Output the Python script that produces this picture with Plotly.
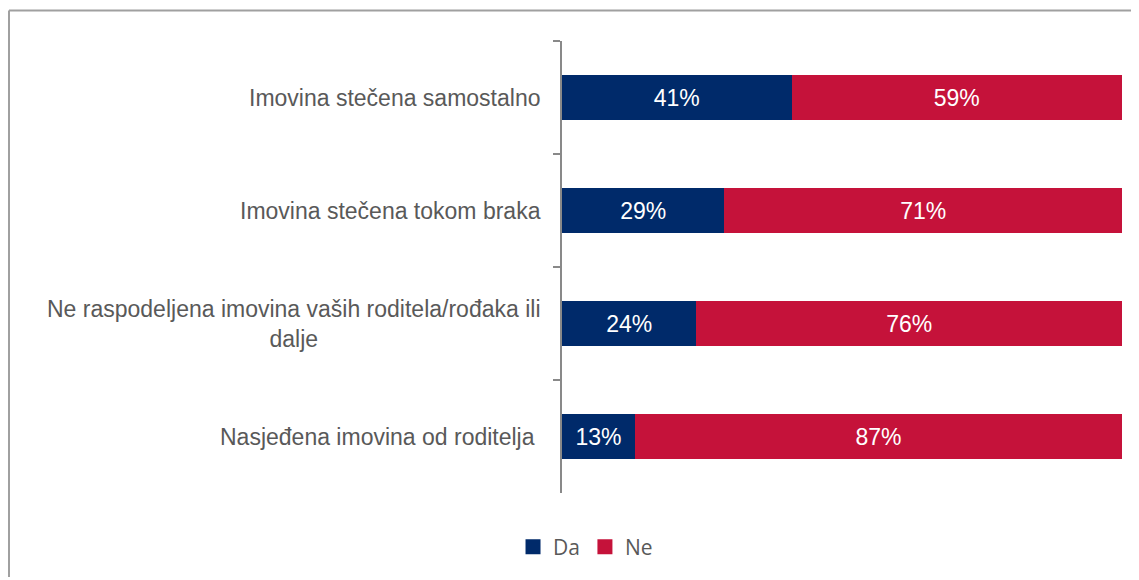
import plotly.graph_objects as go

categories = [
    "Imovina stečena samostalno",
    "Imovina stečena tokom braka",
    "Ne raspodeljena imovina vaših roditela/rođaka ili<br>dalje",
    "Nasjeđena imovina od roditelja ",
]
series_names = ["Da", "Ne"]
da_values = [41, 29, 24, 13]
ne_values = [59, 71, 76, 87]

NAVY = "#002A6A"
RED = "#C5123A"
colors = [NAVY, RED]

fig = go.Figure()
for name, vals, col in zip(series_names, [da_values, ne_values], colors):
    fig.add_trace(go.Bar(
        y=categories, x=vals, orientation="h", name=name, showlegend=False,
        marker=dict(color=col, line=dict(width=0)),
        text=[f"{v}%" for v in vals], textposition="inside",
        insidetextanchor="middle", constraintext="none",
        textfont=dict(color="white", size=23, family="Liberation Sans, Arial"),
    ))
# legend entries with larger square swatches
for name, col in zip(series_names, colors):
    fig.add_trace(go.Scatter(
        x=[None], y=[None], mode="markers", name=name,
        marker=dict(symbol="square", size=15, color=col),
    ))

annotations = []
for c in categories:
    annotations.append(dict(
        x=0, xref="paper", y=c, yref="y", text=c, showarrow=False,
        xanchor="right", xshift=-19, align="center",
        font=dict(size=23, color="#595959", family="Liberation Sans, Arial"),
    ))

fig.update_layout(
    barmode="stack",
    bargap=0.6,
    width=1123, height=569,
    margin=dict(l=554, r=9, t=33, b=79),
    plot_bgcolor="white", paper_bgcolor="white",
    showlegend=True,
    legend=dict(orientation="h", x=0.042, xanchor="center", y=-0.1195, yanchor="middle",
                font=dict(size=21, color="#595959", family="Open Sans"),
                traceorder="normal", itemwidth=30, itemsizing="trace"),
    xaxis=dict(range=[0, 100], visible=False),
    yaxis=dict(autorange="reversed", showticklabels=False, ticks="outside", ticklen=7,
               tickcolor="#898989", tickwidth=2, tickson="boundaries",
               showline=True, linecolor="#898989", linewidth=2, showgrid=False,
               zeroline=False),
    annotations=annotations,
    shapes=[
        dict(type="line", xref="paper", yref="paper", x0=-0.9875, x1=1.1, y0=1.0675, y1=1.0675,
             line=dict(color="#A0A0A0", width=2)),
        dict(type="line", xref="paper", yref="paper", x0=-0.9875, x1=-0.9875, y0=1.0675, y1=-0.3,
             line=dict(color="#A0A0A0", width=2)),
    ],
)

fig.write_html("out.html")
